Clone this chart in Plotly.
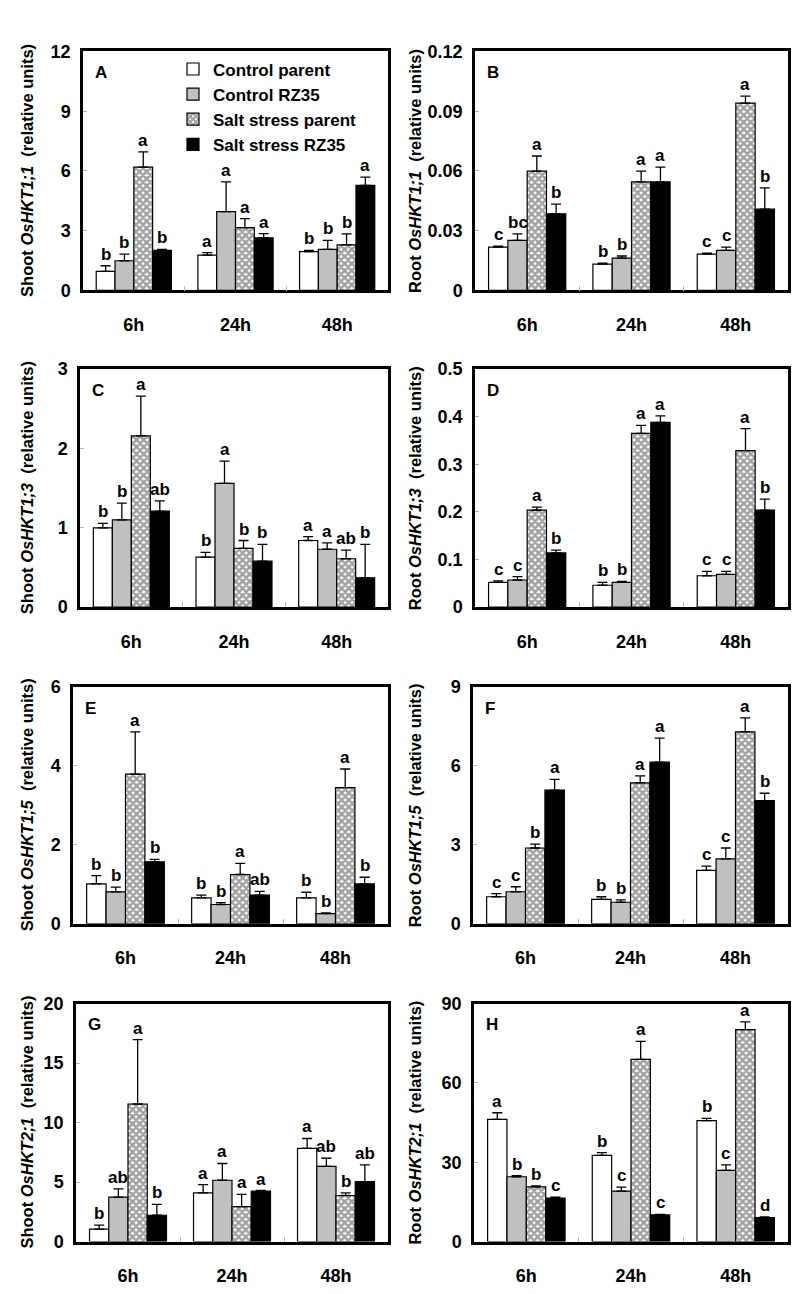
import plotly.graph_objects as go
from plotly.subplots import make_subplots

times = ["6h", "24h", "48h"]
groups = ["Control parent", "Control RZ35", "Salt stress parent", "Salt stress RZ35"]

# panel A - Shoot OsHKT1;1
a_vals = [[0.96, 1.77, 1.95], [1.49, 3.96, 2.06], [6.19, 3.15, 2.29], [2.01, 2.64, 5.28]]
a_errs = [[0.28, 0.13, 0.06], [0.33, 1.49, 0.45], [0.77, 0.46, 0.55], [0.05, 0.21, 0.41]]
a_lets = [["b", "a", "b"], ["b", "a", "b"], ["a", "a", "b"], ["b", "a", "a"]]

# panel B - Root OsHKT1;1
b_vals = [[0.0218, 0.0132, 0.0182], [0.0251, 0.0162, 0.0201], [0.0599, 0.0545, 0.0941], [0.0385, 0.0545, 0.0408]]
b_errs = [[0.0005, 0.0005, 0.0005], [0.0033, 0.0011, 0.0017], [0.0076, 0.0054, 0.0035], [0.0048, 0.0074, 0.0107]]
b_lets = [["c", "b", "c"], ["bc", "b", "c"], ["a", "a", "a"], ["b", "a", "b"]]

# panel C - Shoot OsHKT1;3
c_vals = [[1.0, 0.63, 0.84], [1.10, 1.56, 0.73], [2.16, 0.74, 0.61], [1.21, 0.58, 0.37]]
c_errs = [[0.055, 0.06, 0.05], [0.21, 0.28, 0.08], [0.5, 0.10, 0.11], [0.13, 0.21, 0.42]]
c_lets = [["b", "b", "a"], ["b", "a", "a"], ["a", "b", "ab"], ["ab", "b", "b"]]

# panel D - Root OsHKT1;3
d_vals = [[0.052, 0.046, 0.066], [0.057, 0.052, 0.069], [0.204, 0.365, 0.329], [0.114, 0.388, 0.204]]
d_errs = [[0.003, 0.006, 0.009], [0.007, 0.002, 0.006], [0.006, 0.017, 0.046], [0.006, 0.014, 0.023]]
d_lets = [["c", "b", "c"], ["c", "b", "c"], ["a", "a", "a"], ["b", "a", "b"]]

# panel E - Shoot OsHKT1;5
e_vals = [[1.01, 0.66, 0.66], [0.81, 0.49, 0.26], [3.79, 1.25, 3.45], [1.57, 0.73, 1.01]]
e_errs = [[0.21, 0.07, 0.14], [0.12, 0.05, 0.02], [1.07, 0.28, 0.47], [0.06, 0.09, 0.17]]
e_lets = [["b", "b", "b"], ["b", "b", "b"], ["a", "a", "a"], ["b", "ab", "b"]]

# panel F - Root OsHKT1;5
f_vals = [[1.03, 0.93, 2.03], [1.22, 0.82, 2.47], [2.88, 5.35, 7.29], [5.08, 6.14, 4.68]]
f_errs = [[0.12, 0.10, 0.16], [0.19, 0.09, 0.41], [0.15, 0.27, 0.53], [0.41, 0.91, 0.28]]
f_lets = [["c", "b", "c"], ["c", "b", "c"], ["b", "a", "a"], ["a", "a", "b"]]

# panel G - Shoot OsHKT2;1
g_vals = [[1.05, 4.09, 7.83], [3.73, 5.15, 6.31], [11.56, 2.93, 3.87], [2.21, 4.23, 5.03]]
g_errs = [[0.33, 0.70, 0.83], [0.70, 1.41, 0.69], [5.40, 1.03, 0.22], [0.92, 0.06, 1.42]]
g_lets = [["b", "a", "a"], ["ab", "a", "ab"], ["a", "a", "b"], ["b", "a", "ab"]]

# panel H - Root OsHKT2;1
h_vals = [[46.2, 32.6, 45.7], [24.5, 19.1, 26.9], [20.7, 68.9, 80.1], [16.4, 10.1, 9.1]]
h_errs = [[2.5, 1.0, 0.9], [0.4, 1.5, 2.1], [0.3, 6.8, 3.0], [0.4, 0.2, 0.2]]
h_lets = [["a", "b", "b"], ["b", "c", "c"], ["b", "a", "a"], ["c", "c", "d"]]

panels = [
    ("A", "Shoot", "OsHKT1;1", a_vals, a_errs, a_lets, 12, 3),
    ("B", "Root", "OsHKT1;1", b_vals, b_errs, b_lets, 0.12, 0.03),
    ("C", "Shoot", "OsHKT1;3", c_vals, c_errs, c_lets, 3, 1),
    ("D", "Root", "OsHKT1;3", d_vals, d_errs, d_lets, 0.5, 0.1),
    ("E", "Shoot", "OsHKT1;5", e_vals, e_errs, e_lets, 6, 2),
    ("F", "Root", "OsHKT1;5", f_vals, f_errs, f_lets, 9, 3),
    ("G", "Shoot", "OsHKT2;1", g_vals, g_errs, g_lets, 20, 5),
    ("H", "Root", "OsHKT2;1", h_vals, h_errs, h_lets, 90, 30),
]

# page body has an 8px margin, so the figure is made smaller and shifted
OFF = 8
W, H = 800 - 2 * OFF, 1294 - 2 * OFF
# plot boxes in page pixels: left, right, top, bottom
boxes = [(83, 388, 42, 285), (475, 788, 42, 285),
         (80, 388, 365, 607), (475, 788, 365, 607),
         (73, 388, 688, 929), (473, 788, 688, 929),
         (76, 388, 1010, 1252), (474, 788, 1010, 1252)]


def px(x):
    return (x - OFF) / W


def py(y):
    return 1 - (y - OFF) / H


fills = ["white", "#c0c0c0", "white", "black"]
FONT = "Liberation Sans, Arial, sans-serif"
bargap = 0.26
bw = (1 - bargap) / 4
offs = [(-1.5 + k) * bw for k in range(4)]

fig = make_subplots(rows=4, cols=2)
annos = []
for p, (lab, organ, gene, vals, errs, lets, ymax, dt) in enumerate(panels):
    r, c = p // 2 + 1, p % 2 + 1
    for k in range(4):
        marker = dict(color=fills[k], line=dict(color="black", width=1.2))
        if k == 2:
            marker["pattern"] = dict(shape="x", bgcolor="white", fgcolor="#444",
                                     size=5, solidity=0.75)
        fig.add_trace(go.Bar(
            x=[0, 1, 2], y=vals[k], name=groups[k], marker=marker,
            showlegend=(p == 0),
            error_y=dict(type="data", symmetric=False, array=errs[k],
                         arrayminus=[0, 0, 0], color="black", thickness=1.3, width=5),
        ), row=r, col=c)
        for i in range(3):
            annos.append(dict(xref=f"x{p + 1}", yref=f"y{p + 1}",
                              x=i + offs[k], y=vals[k][i] + errs[k][i],
                              text=f"<b>{lets[k][i]}</b>", showarrow=False,
                              yanchor="bottom", yshift=0,
                              font=dict(size=17, family=FONT, color="black")))
    L, R, T, B = boxes[p]
    xa = "xaxis" if p == 0 else f"xaxis{p + 1}"
    ya = "yaxis" if p == 0 else f"yaxis{p + 1}"
    fig.layout[xa].update(domain=[px(L), px(R)], range=[-0.5, 2.5],
                          tickvals=[0, 1, 2], ticktext=[f"<b>{t}</b>" for t in times],
                          ticks="", ticklabelstandoff=16,
                          minor=dict(tickvals=[0.5, 1.5], ticks="inside", ticklen=5,
                                     tickcolor="#bbb"),
                          showline=True, mirror=True, linecolor="black", linewidth=2.5,
                          showgrid=False, zeroline=False,
                          tickfont=dict(size=18, family=FONT, color="black"))
    nt = int(round(ymax / dt))
    tv = [round(dt * j, 4) for j in range(nt + 1)]
    fig.layout[ya].update(domain=[py(B), py(T)], range=[0, ymax],
                          tickvals=tv, ticktext=[f"<b>{v:g}</b>" for v in tv],
                          ticks="inside", ticklen=4, tickcolor="#bbb",
                          ticklabelstandoff=6,
                          showline=True, mirror=True, linecolor="black", linewidth=2.5,
                          showgrid=False, zeroline=False,
                          tickfont=dict(size=18, family=FONT, color="black"))
    # panel letter
    annos.append(dict(xref="paper", yref="paper", x=px(L + 10), y=py(T + 10),
                      xanchor="left", yanchor="top", text=f"<b>{lab}</b>",
                      showarrow=False, font=dict(size=17, family=FONT, color="black")))
    # y-axis title
    tx = 27 if c == 1 else 415
    annos.append(dict(xref="paper", yref="paper", x=px(tx), y=py((T + B) / 2),
                      xanchor="center", yanchor="middle", textangle=-90,
                      text=f"<b>{organ} <i>{gene}</i>  (relative units)</b>",
                      showarrow=False, font=dict(size=16.5, family=FONT, color="black")))

fig.update_layout(
    width=W, height=H, margin=dict(l=0, r=0, t=0, b=0),
    plot_bgcolor="white", paper_bgcolor="white",
    barmode="group", bargap=bargap, bargroupgap=0,
    annotations=annos,
    font=dict(family=FONT, color="black"),
    legend=dict(x=px(173), y=py(42), xanchor="left", yanchor="top",
                bgcolor="rgba(0,0,0,0)", itemwidth=30, tracegroupgap=0,
                font=dict(size=17, family=FONT, color="black"),
                itemclick=False),
)
for t in fig.data:
    t.name = f"<b>{t.name}</b>"

fig.write_html("out.html")
